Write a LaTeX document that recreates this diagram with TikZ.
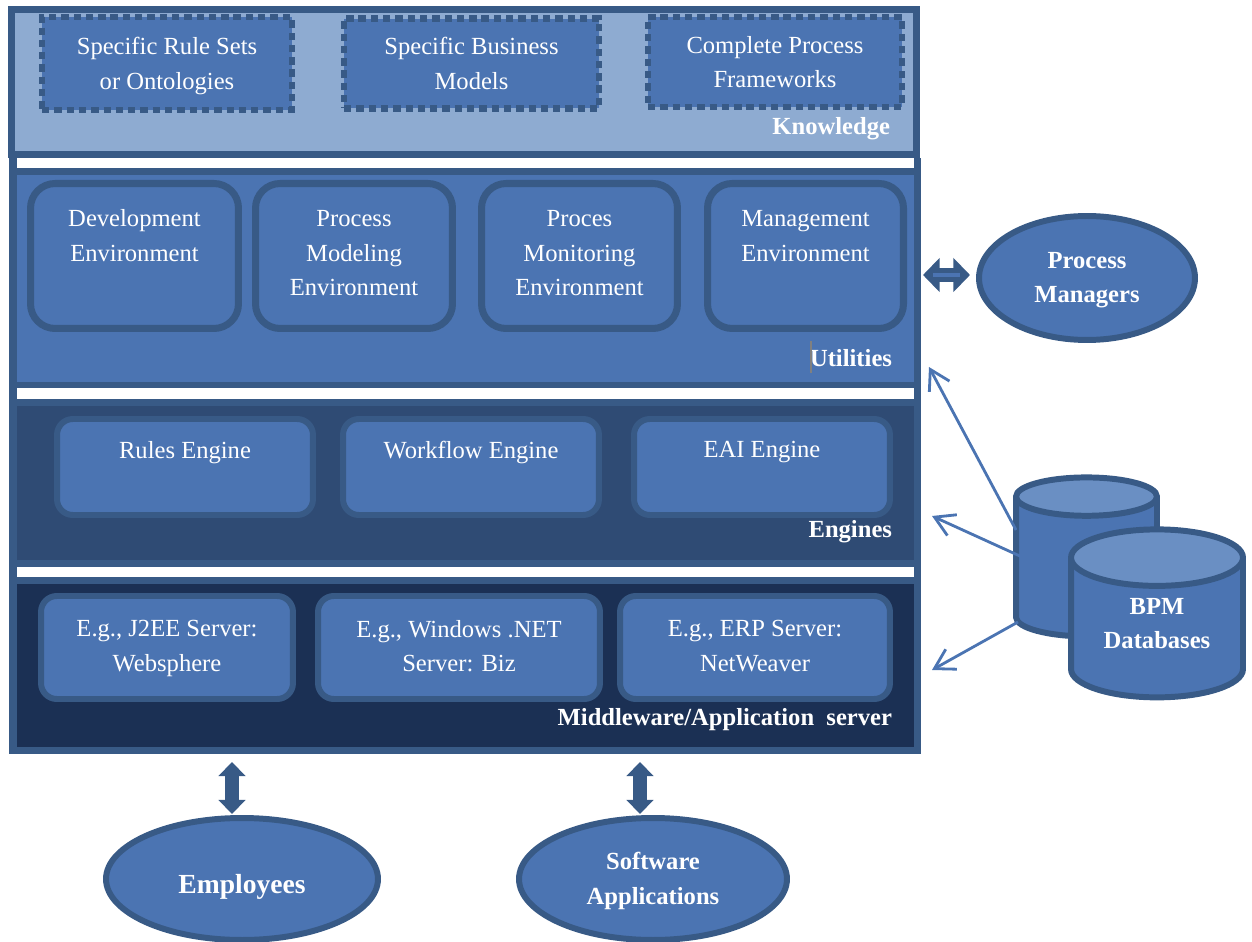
\documentclass[tikz,border=0pt]{standalone}
\usepackage{fontspec}
\setmainfont{Liberation Serif}
\usetikzlibrary{shapes.geometric,arrows.meta}

\definecolor{framec}{HTML}{385A86}
\definecolor{boxc}{HTML}{4B74B2}
\definecolor{lightc}{HTML}{8EABD1}
\definecolor{topc}{HTML}{6A8FC3}
\definecolor{enginec}{HTML}{2F4B74}
\definecolor{middlec}{HTML}{1B3054}

\begin{document}
\begin{tikzpicture}[x=0.02cm,y=-0.02cm,
   every node/.style={inner sep=0pt,outer sep=0pt,align=center,text=white,text depth=4pt,font=\fontsize{14}{19.8}\selectfont},
   block node/.style={rectangle,fill=#1},
   rule node/.style={rectangle,fill=white,minimum width=17.94cm,minimum height=0.2cm},
   title node/.style={anchor=base east,font=\fontsize{14}{19.8}\selectfont\bfseries},
   know node/.style={rectangle,draw=framec,fill=boxc,line width=3.5pt,dash pattern=on 4.2pt off 2.8pt,minimum width=5cm,minimum height=1.85cm,text depth=0pt},
   util node/.style={rectangle,draw=framec,fill=boxc,line width=4pt,rounded corners=14pt,minimum height=2.9cm,text depth=3.4pt},
   soft node/.style={rectangle,draw=framec,fill=boxc,line width=3.4pt,rounded corners=9pt,text depth=1.7pt},
   actor node/.style={ellipse,draw=framec,fill=boxc,line width=3.4pt,text depth=0.6pt,font=\fontsize{14}{19.8}\selectfont\bfseries},
   store node/.style={cylinder,shape border rotate=90,draw=framec,line width=3.4pt,cylinder uses custom fill,
      cylinder body fill=boxc,cylinder end fill=topc,text depth=6.2pt,font=\fontsize{14}{19.8}\selectfont\bfseries}]

\tikzstyle {block} = [{Triangle[length=8pt,width=15pt]}-{Triangle[length=8pt,width=15pt]}, framec, line width=7.5pt];
\tikzstyle {swap} = [{Triangle[length=9.5pt,width=19pt]}-{Triangle[length=9.5pt,width=19pt]}, framec, line width=7.5pt];
\tikzstyle {inner} = [boxc, line width=2pt];
\tikzstyle {feed} = [-{Straight Barb[length=11pt,width=13pt,line width=1.6pt]}, boxc, line width=1.6pt];

\useasboundingbox (0,0) rectangle (1252,942);

% layers
\node[block node=framec,minimum width=18.24cm,minimum height=11.94cm] (stack) at (465,456){};
\node[block node=boxc,minimum width=17.94cm,minimum height=4.14cm] (utilities) at (465.5,278.5){};
\node[block node=enginec,minimum width=17.94cm,minimum height=3.08cm] (engines) at (465.5,483){};
\node[block node=middlec,minimum width=17.94cm,minimum height=3.26cm] (middleware) at (465.5,665.5){};
\node[rule node] (gap1) at (465.5,163){};
\node[rule node,minimum height=0.22cm] (gap2) at (465.5,393.5){};
\node[rule node] (gap3) at (465.5,572){};
\node[rectangle,draw=framec,fill=lightc,line width=4pt,minimum width=18.12cm,minimum height=2.89cm] (knowledge) at (464,82){};

% knowledge
\node[know node] (rules) at (167,63.5){Specific Rule Sets\\or Ontologies};
\node[know node,minimum width=5.1cm,minimum height=1.8cm] (models) at (471.5,63.5){Specific Business\\Models};
\node[know node,minimum width=5.08cm,minimum height=1.8cm] (frames) at (775,62){Complete Process\\Frameworks};
\node[title node] (knowt) at (890,135){Knowledge};

% utilities
\node[util node,minimum width=4.16cm] (dev) at (134.5,256){Development\\Environment\\~};
\node[util node,minimum width=3.94cm] (model) at (354,256){Process\\Modeling\\Environment};
\node[util node,minimum width=3.92cm] (monitor) at (579.5,256){Proces\\Monitoring\\Environment};
\node[util node,minimum width=3.92cm] (manage) at (805.5,256){Management\\Environment\\~};
\node[title node] (utilt) at (892,367){Utilities};
\coordinate (marka) at (811,341);
\coordinate (markb) at (811,373);
\path (marka) edge [gray, line width=0.8pt] (markb);

% engines
\node[soft node,text depth=-1.5pt,minimum width=5.12cm,minimum height=1.92cm] (rule) at (185,467){Rules Engine\\~};
\node[soft node,text depth=-1.5pt,minimum width=5.12cm,minimum height=1.92cm] (flow) at (471,467){Workflow Engine\\~};
\node[soft node,text depth=-1.5pt,minimum width=5.12cm,minimum height=1.92cm] (eai) at (762,467){EAI Engine\\~};
\node[title node] (engt) at (892,538){Engines};

% servers
\node[soft node,minimum width=5.04cm,minimum height=2.06cm] (j2ee) at (167,647.5){E.g., J2EE Server:\\Websphere};
\node[soft node,minimum width=5.64cm,minimum height=2.06cm] (net) at (459,647.5){E.g., Windows .NET\\Server: Biz};
\node[soft node,minimum width=5.40cm,minimum height=2.06cm] (erp) at (755,647.5){E.g., ERP Server:\\NetWeaver};
\node[title node] (midt) at (892,725){Middleware/Application\ \ server};

% actors
\node[actor node,minimum width=4.32cm,minimum height=2.48cm] (pm) at (1087,278){Process\\Managers};
\node[actor node,minimum width=5.44cm,minimum height=2.44cm,text depth=4pt,text height=20pt,font=\fontsize{15.7}{19.8}\selectfont\bfseries] (emp) at (242,879){Employees};
\node[actor node,minimum width=5.36cm,minimum height=2.44cm] (soft) at (653,879){Software\\Applications};

\coordinate (empa) at (232,762);
\coordinate (empb) at (232,814);
\coordinate (softa) at (640,762);
\coordinate (softb) at (640,814);
\coordinate (pma) at (923,275);
\coordinate (pmb) at (970,275);
\coordinate (pmc) at (933,275);
\coordinate (pmd) at (960,275);

\path (empa) edge [block] (empb);
\path (softa) edge [block] (softb);
\path (pma) edge [swap] (pmb);
\path (pmc) edge [inner] (pmd);

% databases
\node[store node,minimum width=2.82cm,minimum height=3.18cm,aspect=0.36] (dba) at (1086.5,568){\phantom{Databases}\\~};

\coordinate (feeda) at (1016,530);
\coordinate (feedb) at (1033,562);
\coordinate (feedc) at (1018,622);
\coordinate (utilin) at (929,367);
\coordinate (engin) at (932,516);
\coordinate (midin) at (932,670);

\path (feeda) edge [feed] (utilin);
\path (feedb) edge [feed] (engin);
\path (feedc) edge [feed] (midin);

\node[store node,minimum width=3.44cm,minimum height=3.36cm,aspect=0.53] (dbb) at (1157,629){BPM\\Databases};

\end{tikzpicture}
\end{document}
